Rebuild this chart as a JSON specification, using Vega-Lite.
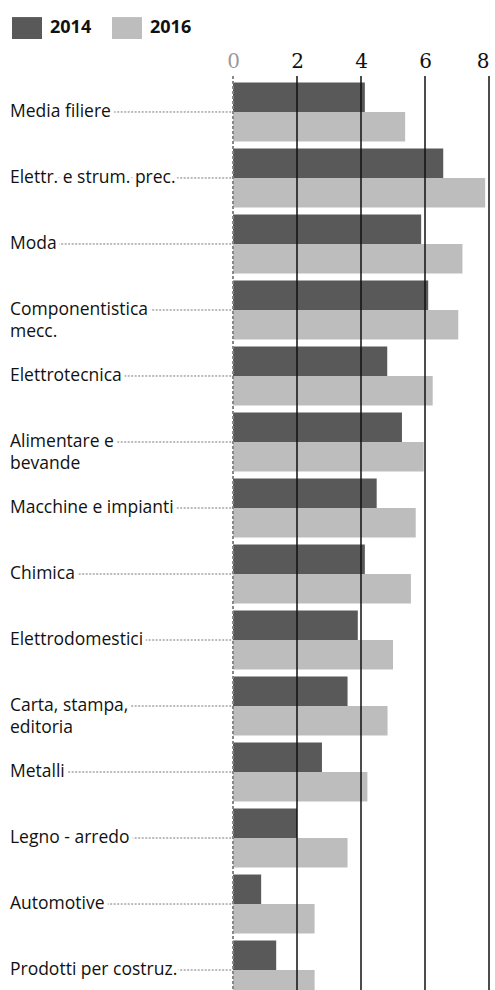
{
  "$schema": "https://vega.github.io/schema/vega-lite/v6.json",
  "width": 489,
  "height": 930,
  "autosize": {"type": "none"},
  "padding": {"left": 0, "top": 76, "right": 6, "bottom": 0},
  "background": "white",
  "config": {
    "view": {"stroke": null},
    "axisX": {"labelFont": "DejaVu Serif", "labelFontSize": 20, "labelFontWeight": "normal", "labelPadding": 5},
    "legend": {"labelFont": "Open Sans"}
  },
  "data": {"values": [
    {"sector": "Media filiere", "year": "2014", "value": 4.12},
    {"sector": "Media filiere", "year": "2016", "value": 5.38},
    {"sector": "Elettr. e strum. prec.", "year": "2014", "value": 6.57},
    {"sector": "Elettr. e strum. prec.", "year": "2016", "value": 7.88},
    {"sector": "Moda", "year": "2014", "value": 5.88},
    {"sector": "Moda", "year": "2016", "value": 7.17},
    {"sector": "Componentistica\nmecc.", "year": "2014", "value": 6.1},
    {"sector": "Componentistica\nmecc.", "year": "2016", "value": 7.04},
    {"sector": "Elettrotecnica", "year": "2014", "value": 4.82},
    {"sector": "Elettrotecnica", "year": "2016", "value": 6.24},
    {"sector": "Alimentare e\nbevande", "year": "2014", "value": 5.28},
    {"sector": "Alimentare e\nbevande", "year": "2016", "value": 5.96},
    {"sector": "Macchine e impianti", "year": "2014", "value": 4.49},
    {"sector": "Macchine e impianti", "year": "2016", "value": 5.71},
    {"sector": "Chimica", "year": "2014", "value": 4.12},
    {"sector": "Chimica", "year": "2016", "value": 5.56},
    {"sector": "Elettrodomestici", "year": "2014", "value": 3.9},
    {"sector": "Elettrodomestici", "year": "2016", "value": 5.0},
    {"sector": "Carta, stampa,\neditoria", "year": "2014", "value": 3.58},
    {"sector": "Carta, stampa,\neditoria", "year": "2016", "value": 4.83},
    {"sector": "Metalli", "year": "2014", "value": 2.78},
    {"sector": "Metalli", "year": "2016", "value": 4.2},
    {"sector": "Legno - arredo", "year": "2014", "value": 2.0},
    {"sector": "Legno - arredo", "year": "2016", "value": 3.58},
    {"sector": "Automotive", "year": "2014", "value": 0.88},
    {"sector": "Automotive", "year": "2016", "value": 2.55},
    {"sector": "Prodotti per costruz.", "year": "2014", "value": 1.35},
    {"sector": "Prodotti per costruz.", "year": "2016", "value": 2.55}
  ]},
  "layer": [
    {
      "transform": [{"filter": "datum.year == '2014'"}],
      "mark": {"type": "rule", "color": "#777", "strokeWidth": 1, "strokeDash": [2, 1.5]},
      "encoding": {
        "x": {"datum": -6.9, "type": "quantitative", "title": null, "scale": {"domain": [-7.28125, 8], "nice": false, "zero": false}},
        "x2": {"datum": 0},
        "y": {"field": "sector", "type": "nominal", "sort": null, "axis": null, "scale": {"paddingInner": 0.106, "paddingOuter": 0.098}}
      }
    },
    {
      "transform": [{"filter": "datum.year == '2014'"}],
      "mark": {"type": "text", "align": "left", "baseline": "middle", "lineBreak": "\n", "fontSize": 17.5, "lineHeight": 22, "font": "Open Sans", "fill": "white", "stroke": "white", "strokeWidth": 8, "strokeJoin": "round"},
      "encoding": {
        "x": {"datum": -6.97, "type": "quantitative", "title": null, "scale": {"domain": [-7.28125, 8], "nice": false, "zero": false}},
        "y": {"field": "sector", "type": "nominal", "sort": null, "axis": null},
        "text": {"field": "sector"}
      }
    },
    {
      "transform": [{"filter": "datum.year == '2014'"}],
      "mark": {"type": "text", "align": "left", "baseline": "middle", "lineBreak": "\n", "fontSize": 17.5, "lineHeight": 22, "font": "Open Sans", "color": "#111"},
      "encoding": {
        "x": {"datum": -6.97, "type": "quantitative", "title": null, "scale": {"domain": [-7.28125, 8], "nice": false, "zero": false}},
        "y": {"field": "sector", "type": "nominal", "sort": null, "axis": null},
        "text": {"field": "sector"}
      }
    },
    {
      "mark": {"type": "bar", "opacity": 1},
      "encoding": {
        "x": {"field": "value", "type": "quantitative", "title": null,
          "scale": {"domain": [-7.28125, 8], "nice": false, "zero": false},
          "axis": {"orient": "top", "values": [0, 2, 4, 6, 8], "domain": false, "ticks": false, "grid": false,
            "labelFont": "DejaVu Serif", "labelFontSize": 20, "labelFontWeight": "normal", "labelPadding": 5,
            "labelColor": {"condition": {"test": "datum.value === 0", "value": "#999"}, "value": "#111"}}},
        "y": {"field": "sector", "type": "nominal", "sort": null, "axis": null},
        "yOffset": {"field": "year", "type": "nominal"},
        "color": {"field": "year", "type": "nominal",
          "scale": {"domain": ["2014", "2016"], "range": ["#595959", "#bdbdbd"]},
          "legend": {"orient": "none", "legendX": 12, "legendY": -63, "direction": "horizontal", "title": null,
            "symbolType": "M-1,-0.73H1V0.73H-1Z", "symbolSize": 900, "symbolStrokeWidth": 0, "symbolOpacity": 1,
            "labelFont": "Open Sans", "labelFontWeight": "bold", "labelFontSize": 18, "labelColor": "#111",
            "columnPadding": 20, "labelOffset": 8}}
      }
    },
    {
      "mark": {"type": "rule", "color": "#888", "strokeWidth": 1, "strokeDash": [3, 2]},
      "encoding": {
        "x": {"datum": 0, "type": "quantitative", "title": null, "scale": {"domain": [-7.28125, 8], "nice": false, "zero": false}}
      }
    },
    {
      "data": {"values": [{"g": 2}, {"g": 4}, {"g": 6}, {"g": 8}]},
      "mark": {"type": "rule", "color": "#111", "strokeWidth": 1.5},
      "encoding": {
        "x": {"field": "g", "type": "quantitative", "title": null, "scale": {"domain": [-7.28125, 8], "nice": false, "zero": false}}
      }
    }
  ]
}
